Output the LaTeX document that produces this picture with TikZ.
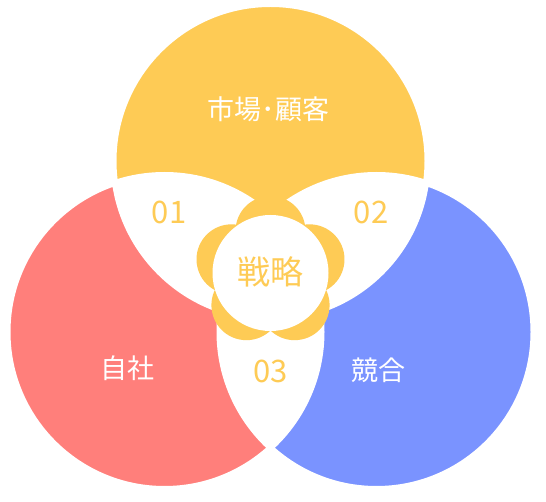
\documentclass[tikz,border=0pt]{standalone}
\usepackage{fontspec}
\newfontfamily\jp{Noto Sans CJK JP}
\usetikzlibrary{calc}
\definecolor{cyel}{HTML}{FECB55}
\definecolor{cred}{HTML}{FF7F7B}
\definecolor{cblue}{HTML}{7A93FF}
\begin{document}
\begin{tikzpicture}[x=1pt,y=-1pt,
  lbl/.style={inner sep=0pt, anchor=base},
  fa/.style={font=\jp\fontsize{27pt}{30pt}\selectfont},
  fnum/.style={font=\jp\fontsize{31pt}{34pt}\selectfont, text=cyel},
  fcen/.style={font=\jp\fontsize{33pt}{36pt}\selectfont, text=cyel}]
\useasboundingbox (0,0) rectangle (546,502);
\coordinate (cy) at (270.5,161);
\coordinate (cr) at (164.5,332);
\coordinate (cb) at (376.5,332);
\coordinate (fc) at (270.5,272);
% circles
\fill[cyel] (cy) circle[radius=157pt];
\fill[cred] (cr) circle[radius=157pt];
\fill[cblue] (cb) circle[radius=157pt];
% white overlaps
\begin{scope}
  \clip (cy) circle[radius=157pt];
  \fill[white] (cr) circle[radius=157pt];
  \fill[white] (cb) circle[radius=157pt];
\end{scope}
\begin{scope}
  \clip (cr) circle[radius=157pt];
  \fill[white] (cb) circle[radius=157pt];
\end{scope}
\draw[white, line width=6pt] (cy) circle[radius=157pt] (cr) circle[radius=157pt] (cb) circle[radius=157pt];
% flower
\foreach \a in {90,18,162,-54,234}{
  \fill[cyel] ($(fc)+({41*cos(\a)},{-41*sin(\a)})$) circle[radius=35pt];
}
\fill[white] (270.5,273) circle[radius=58pt];
% labels
\node[lbl, fa, text=white] (market) at (268.5,120) {市場･顧客};
\node[lbl, fa, text=white] (self) at (127,378) {自社};
\node[lbl, fa, text=white] (comp) at (378,380.5) {競合};
\node[lbl, fnum] (n1) at (169,224) {01};
\node[lbl, fnum] (n2) at (371,224) {02};
\node[lbl, fnum] (n3) at (270.5,383) {03};
\node[lbl, fcen] (strat) at (270.5,284.5) {戦略};
\end{tikzpicture}
\end{document}
